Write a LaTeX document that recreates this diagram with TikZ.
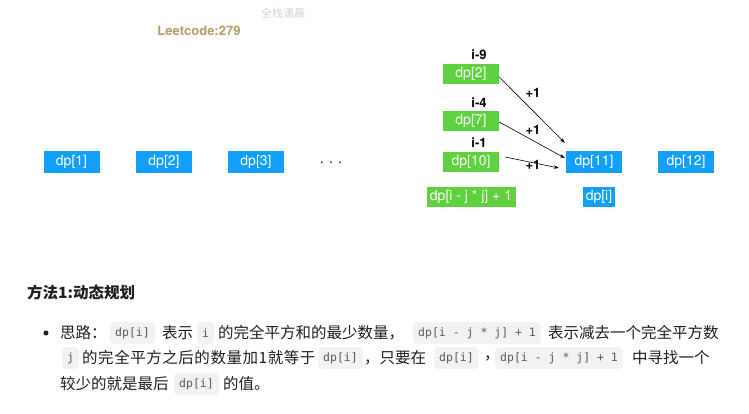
\documentclass[tikz,border=0pt]{standalone}
\usepackage{fontspec}
\setmainfont{TeX Gyre Heros}
\setmonofont{DejaVu Sans Mono}
\newfontfamily\cjk{Noto Sans CJK SC}
\newfontfamily\cjkwide{Noto Sans CJK SC}[LetterSpace=3.5]
\usetikzlibrary{arrows.meta,positioning}
\definecolor{cellblue}{HTML}{12A0F6}
\definecolor{cellgreen}{HTML}{5FD13F}
\definecolor{lcgold}{HTML}{B39D69}
\definecolor{codebg}{HTML}{F1F2F3}
\definecolor{codefg}{HTML}{5A5A5A}
\definecolor{bodytext}{HTML}{1E1E1E}

\begin{document}
\begin{tikzpicture}[
      x=1pt, y=-1pt,
      every node/.style={font=\fontsize{14}{16}\selectfont},
      bluecell/.style={
        rectangle, fill=cellblue, text=white, inner sep=2pt,
        minimum width=56pt, minimum height=22pt
      },
      greencell/.style={
        rectangle, fill=cellgreen, text=white, inner sep=2pt,
        minimum width=56pt, minimum height=20pt
      },
      idxlabel/.style={font=\bfseries\fontsize{13}{14}\selectfont},
      inclabel/.style={font=\bfseries\fontsize{13}{14}\selectfont},
      bodytxt/.style={
        font=\cjk\fontsize{15.5}{18}\selectfont, text=bodytext,
        anchor=west, inner sep=0pt
      },
      codebox/.style={
        font=\ttfamily\fontsize{11.5}{13}\selectfont, text=codefg,
        fill=codebg, rounded corners=4pt, inner xsep=5pt, inner ysep=0pt,
        minimum height=22pt, anchor=west
      },
      arr/.style={-{Stealth[length=5pt, width=3.5pt]}, line width=0.6pt}
    ]
    \useasboundingbox (0,0) rectangle (749,413);

    % ===== Top: title texts =====
    \node[font=\cjk\fontsize{11}{12}\selectfont, text=black!18] (wm) at (283,13) {全栈潇晨};
    \node[font=\bfseries\fontsize{13}{14}\selectfont, text=lcgold] (lc) at (199,31) {Leetcode:279};

    % ===== The dp row =====
    \node[bluecell] (d1) at (71.5,162) {dp[1]};
    \node[bluecell] (d2) at (164,162) {dp[2]};
    \node[bluecell] (d3) at (256,162) {dp[3]};
    \node (dots) at (331,163) {. . .};
    \node[bluecell] (d11) at (594,162) {dp[11]};
    \node[bluecell] (d12) at (686,162) {dp[12]};
    \node[bluecell, minimum width=32pt, minimum height=20pt] (di) at (599,197) {dp[i]};

    % ===== Green candidates =====
    \node[greencell] (g2) at (471,74) {dp[2]};
    \node[greencell] (g7) at (471,121) {dp[7]};
    \node[greencell] (g10) at (471,162) {dp[10]};
    \node[greencell, minimum width=89pt, inner xsep=1pt] (gf) at (471,197) {dp[i - j * j] + 1};
    \node[idxlabel] (l9) at (479,55) {i-9};
    \node[idxlabel] (l4) at (479,103) {i-4};
    \node[idxlabel] (l1) at (479,143) {i-1};

    % ===== Arrows: candidates into dp[11] =====
    \draw[arr] ([shift={(0,3)}]g2.east) -- ([shift={(-1,-8)}]d11.north west);
    \draw[arr] ([shift={(0,1)}]g7.east) -- ([shift={(-1,-4)}]d11.west);
    \draw[arr] ([shift={(6,-5)}]g10.east) -- ([shift={(-7,6)}]d11.west);
    \node[inclabel] (p1) at (533,93) {+1};
    \node[inclabel] (p2) at (533,130) {+1};
    \node[inclabel] (p3) at (533,165) {+1};

    % ===== Bottom: explanation =====
    \node[font=\cjk\bfseries\fontsize{15.5}{18}\selectfont, text=bodytext,
      anchor=west, inner sep=0pt] (hd) at (27,293) {方法1:动态规划};
    \fill[bodytext] (46,333) circle (2.5);

    \node[bodytxt] (a1) at (60,333) {思路：};
    \node[codebox] (a2) at (110,333) {dp[i]};
    \node[bodytxt] (a3) at (162,333) {表示};
    \node[codebox] (a4) at (197,333) {i};
    \node[bodytxt] (a5) at (218,333) {的完全平方和的最少数量，};
    \node[codebox] (a6) at (413,333) {dp[i - j * j] + 1};
    \node[bodytxt] (a7) at (548,333) {表示减去一个完全平方数};

    \node[codebox] (b1) at (62,358) {j};
    \node[bodytxt, font=\cjkwide\fontsize{15.5}{18}\selectfont] (b2) at (82,358) {的完全平方之后的数量加1就等于};
    \node[codebox] (b4) at (318,358) {dp[i]};
    \node[bodytxt] (b5) at (364,358) {，只要在};
    \node[codebox] (b6) at (434,358) {dp[i]};
    \node[bodytxt] (b7) at (484,358) {，};
    \node[codebox] (b8) at (495,358) {dp[i - j * j] + 1};
    \node[bodytxt] (b9) at (632,358) {中寻找一个};

    \node[bodytxt] (c1) at (60,384) {较少的就是最后};
    \node[codebox] (c2) at (174,384) {dp[i]};
    \node[bodytxt] (c3) at (223,384) {的值。};
  \end{tikzpicture}
\end{document}
